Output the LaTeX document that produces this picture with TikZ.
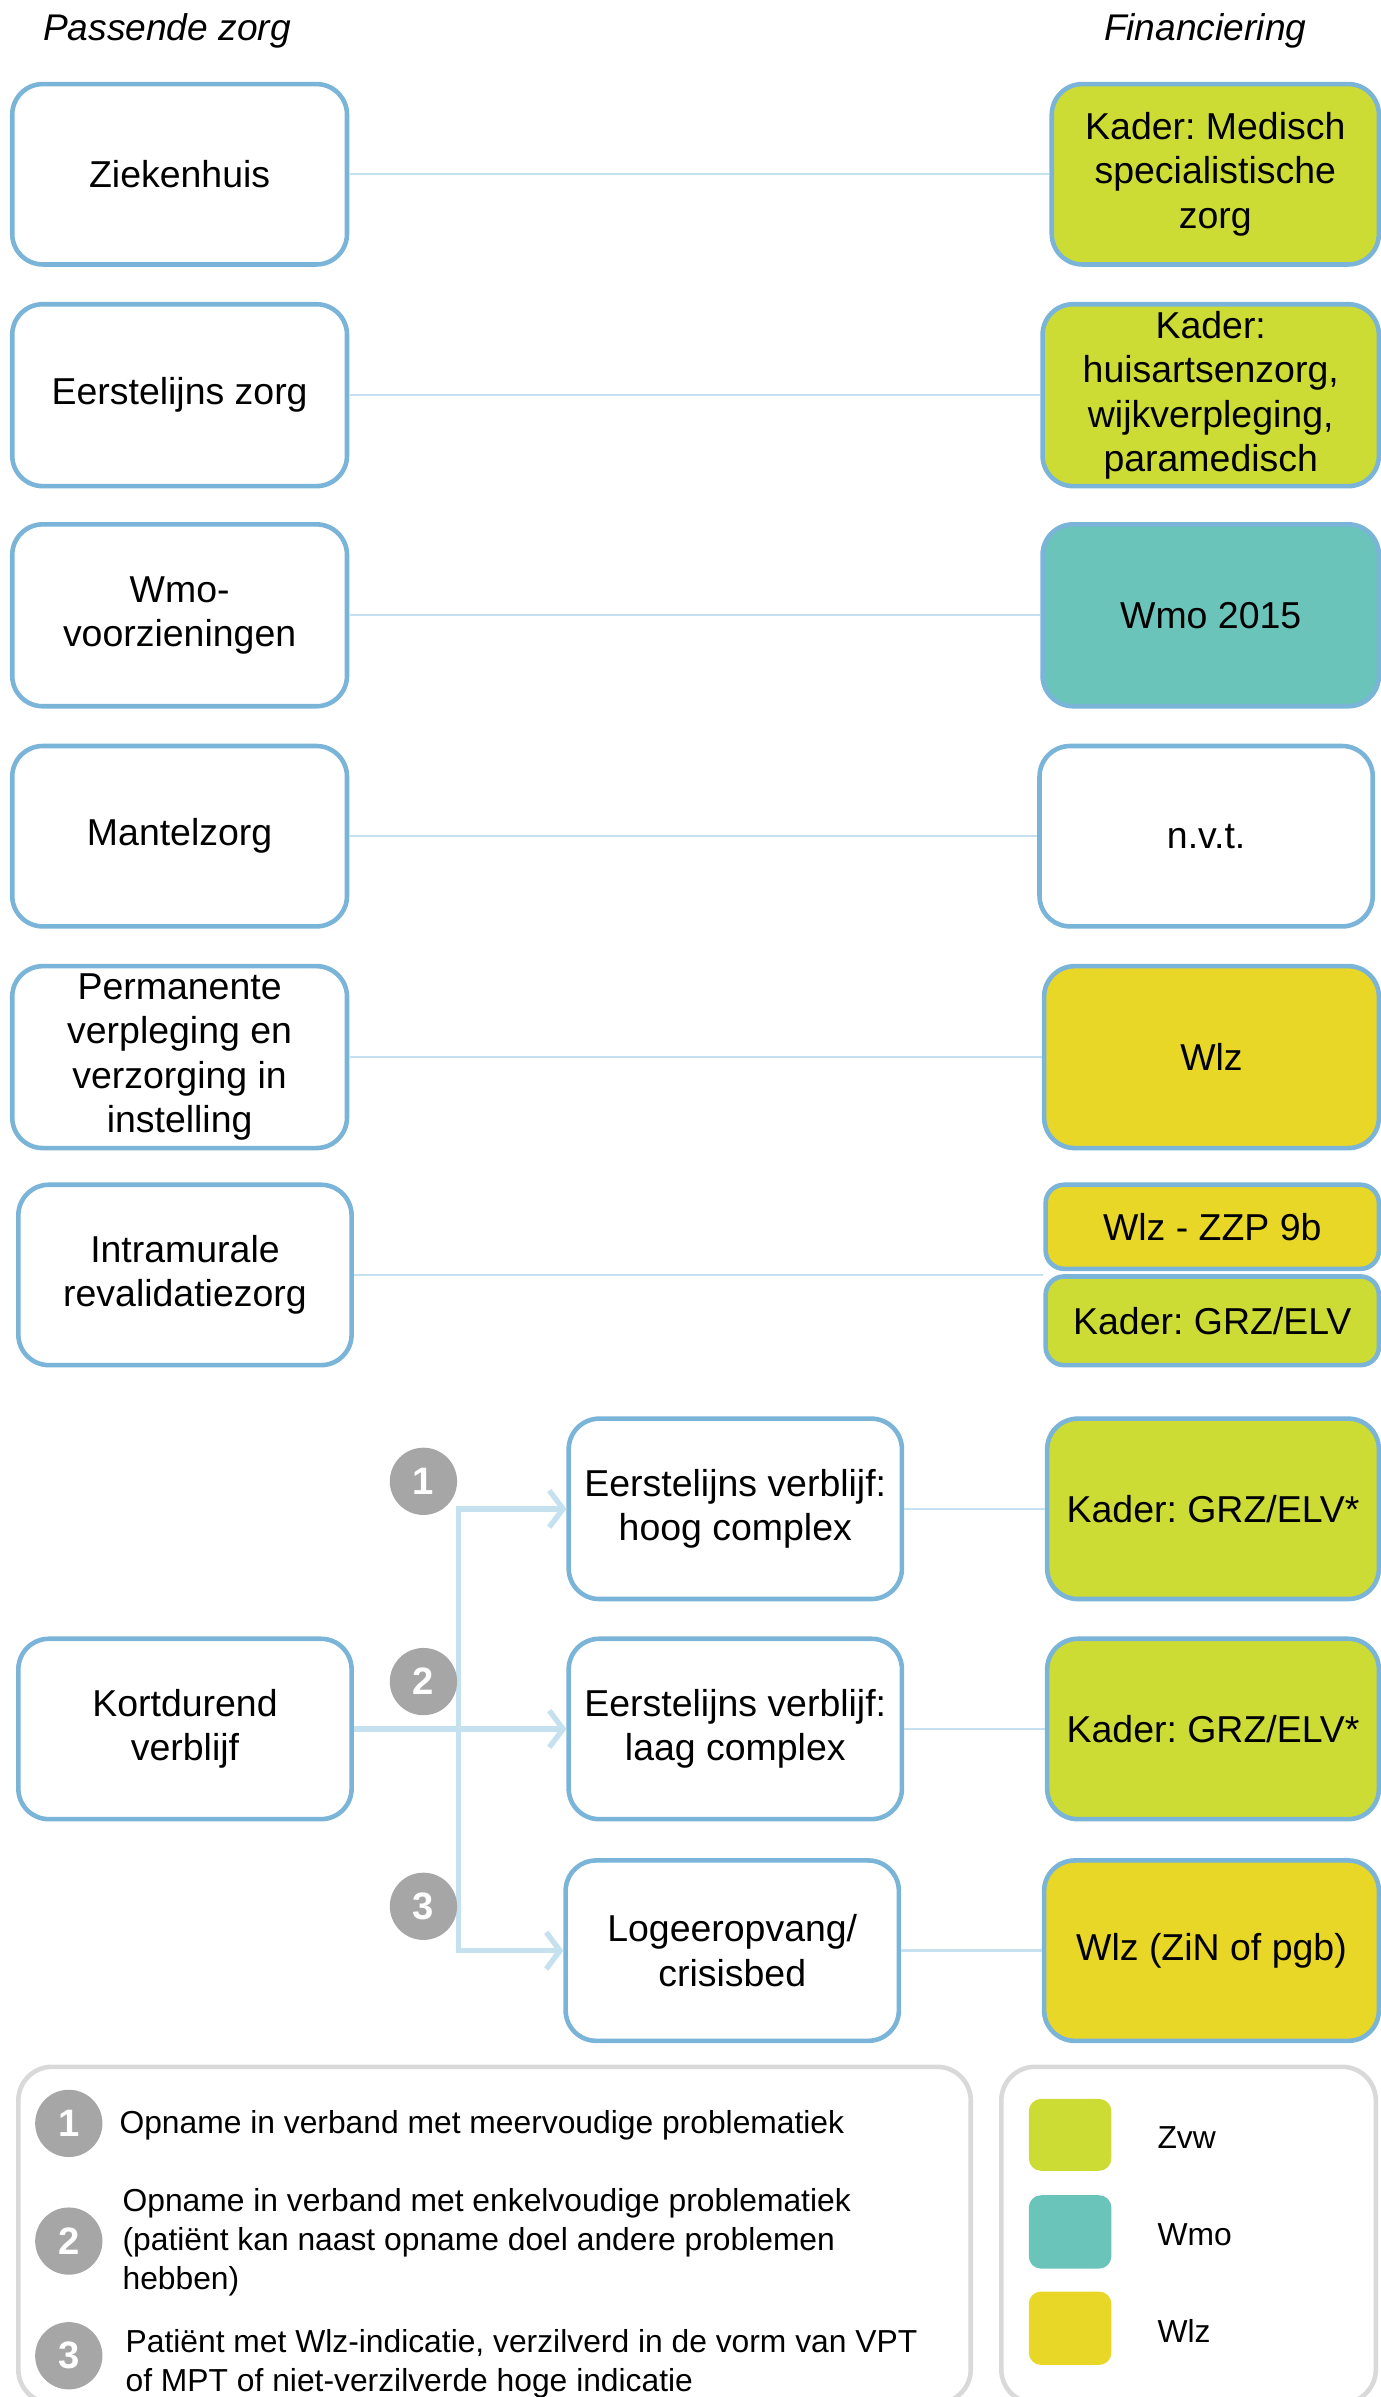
\documentclass[tikz,border=0pt]{standalone}
\usepackage{fontspec}
\setmainfont{Liberation Sans}
\usetikzlibrary{arrows.meta,calc}
\definecolor{bordblue}{RGB}{122,180,216}
\definecolor{linkblue}{RGB}{197,224,238}
\definecolor{zvwgreen}{RGB}{205,220,52}
\definecolor{wmoteal}{RGB}{106,196,185}
\definecolor{wlzyellow}{RGB}{233,215,39}
\definecolor{numgrey}{RGB}{166,166,166}
\definecolor{leggrey}{RGB}{217,217,217}
\frenchspacing
\begin{document}
\begin{tikzpicture}[x=1pt,y=-1pt,
  carebox/.style={draw=bordblue, line width=3pt, rounded corners=20pt, fill=white, inner sep=0pt, align=center, font=\fontsize{24.5}{29}\selectfont},
  link/.style={draw=linkblue, line width=1.5pt},
  arr/.style={draw=linkblue, line width=3.5pt, -{Straight Barb[length=9pt,width=24pt,line width=3.5pt]}},
  numc/.style={circle, fill=numgrey, minimum size=44pt, inner sep=0pt, text=white, font=\fontsize{25}{25}\selectfont\bfseries},
  legtext/.style={anchor=west, align=left, inner sep=0pt, font=\fontsize{20.8}{25.5}\selectfont},
  legbox/.style={draw=leggrey, line width=3pt, rounded corners=22pt, inner sep=0pt},
  swatch/.style={rounded corners=8pt, inner sep=0pt, minimum width=54pt},
  title/.style={anchor=west, inner sep=0pt, font=\fontsize{24.3}{29}\selectfont\itshape}
]
\useasboundingbox (0,0) rectangle (903,1568);
% titles
\node[title] (t1) at (28,20) {Passende zorg};
\node[title] (t2) at (722,20) {Financiering};
% left column
\node[carebox, minimum width=219pt, minimum height=118pt] (zk) at (117.5,114) {Ziekenhuis};
\node[carebox, minimum width=219pt, minimum height=119pt] (ez) at (117.5,258.5) {Eerstelijns zorg};
\node[carebox, minimum width=219pt, minimum height=119pt] (wv) at (117.5,402.5) {Wmo-\\voorzieningen};
\node[carebox, minimum width=219pt, minimum height=118pt] (mz) at (117.5,547) {Mantelzorg};
\node[carebox, minimum width=219pt, minimum height=119pt] (pv) at (117.5,691.5) {Permanente\\verpleging en\\verzorging in\\instelling};
\node[carebox, minimum width=218pt, minimum height=118pt] (ir) at (121,834) {Intramurale\\revalidatiezorg};
\node[carebox, minimum width=218pt, minimum height=118pt] (kv) at (121,1131) {Kortdurend\\verblijf};
% middle column
\node[carebox, minimum width=218pt, minimum height=118pt] (hc) at (481,987) {Eerstelijns verblijf:\\hoog complex};
\node[carebox, minimum width=218pt, minimum height=118pt] (lc) at (481,1131) {Eerstelijns verblijf:\\laag complex};
\node[carebox, minimum width=218pt, minimum height=118pt] (lo) at (479,1276) {Logeeropvang/\\crisisbed};
% right column
\node[carebox, fill=zvwgreen, minimum width=214pt, minimum height=118pt] (f1) at (795,114) {Kader: Medisch\\specialistische\\zorg};
\node[carebox, fill=zvwgreen, minimum width=220pt, minimum height=119pt] (f2) at (792,258.5) {Kader:\\huisartsenzorg,\\wijkverpleging,\\paramedisch};
\node[carebox, fill=wmoteal, minimum width=220pt, minimum height=119pt] (f3) at (792,402.5) {Wmo 2015};
\node[carebox, minimum width=218pt, minimum height=118pt] (f4) at (789,547) {n.v.t.};
\node[carebox, fill=wlzyellow, minimum width=219pt, minimum height=119pt] (f5) at (792.5,691.5) {Wlz};
\node[carebox, fill=wlzyellow, rounded corners=12pt, minimum width=218pt, minimum height=55pt] (f6a) at (793,802.5) {Wlz - ZZP 9b};
\node[carebox, fill=zvwgreen, rounded corners=12pt, minimum width=218pt, minimum height=58pt] (f6b) at (793,864) {Kader: GRZ/ELV};
\node[carebox, fill=zvwgreen, minimum width=217pt, minimum height=118pt] (f7) at (793.5,987) {Kader: GRZ/ELV*};
\node[carebox, fill=zvwgreen, minimum width=217pt, minimum height=118pt] (f8) at (793.5,1131) {Kader: GRZ/ELV*};
\node[carebox, fill=wlzyellow, minimum width=219pt, minimum height=118pt] (f9) at (792.5,1276) {Wlz (ZiN of pgb)};
% thin connectors
\draw[link] (zk.east) -- (f1.west);
\draw[link] (ez.east) -- (f2.west);
\draw[link] (wv.east) -- (f3.west);
\draw[link] (mz.east) -- (f4.west);
\draw[link] (pv.east) -- (f5.west);
\coordinate (gap) at ($(f6a.south west)!0.5!(f6b.north west)$);
\draw[link] (ir.east) -- (ir.east -| gap);
\draw[link] (hc.east) -- (f7.west);
\draw[link] (lc.east) -- (f8.west);
\draw[link] (lo.east) -- (f9.west);
% arrows from Kortdurend verblijf
\coordinate (j) at (300,1131);
\draw[arr] (kv.east) -- (lc.west);
\draw[arr] (j) |- (hc.west);
\draw[arr] (j) |- (lo.west);
% number circles
\node[numc] (n1) at (277,969) {1};
\node[numc] (n2) at (277,1100) {2};
\node[numc] (n3) at (277,1247) {3};
% legend
\node[legbox, minimum width=623pt, minimum height=220pt] (lg1) at (323.5,1462) {};
\node[legbox, minimum width=245pt, minimum height=220pt] (lg2) at (777.5,1462) {};
\node[numc] (l1) at (45,1389) {1};
\node[numc] (l2) at (45,1466) {2};
\node[numc] (l3) at (45,1541) {3};
\node[legtext] (lt1) at (78,1390) {Opname in verband met meervoudige problematiek};
\node[legtext] (lt2) at (80,1467) {Opname in verband met enkelvoudige problematiek\\(patiënt kan naast opname doel andere problemen\\hebben)};
\node[legtext] (lt3) at (82,1546) {Patiënt met Wlz-indicatie, verzilverd in de vorm van VPT\\of MPT of niet-verzilverde hoge indicatie};
\node[swatch, fill=zvwgreen, minimum height=47pt] (s1) at (700,1396.5) {};
\node[swatch, fill=wmoteal, minimum height=48pt] (s2) at (700,1460) {};
\node[swatch, fill=wlzyellow, minimum height=48pt] (s3) at (700,1523) {};
\node[legtext] (sl1) at (757,1398) {Zvw};
\node[legtext] (sl2) at (757,1462) {Wmo};
\node[legtext] (sl3) at (757,1525) {Wlz};
\end{tikzpicture}
\end{document}
